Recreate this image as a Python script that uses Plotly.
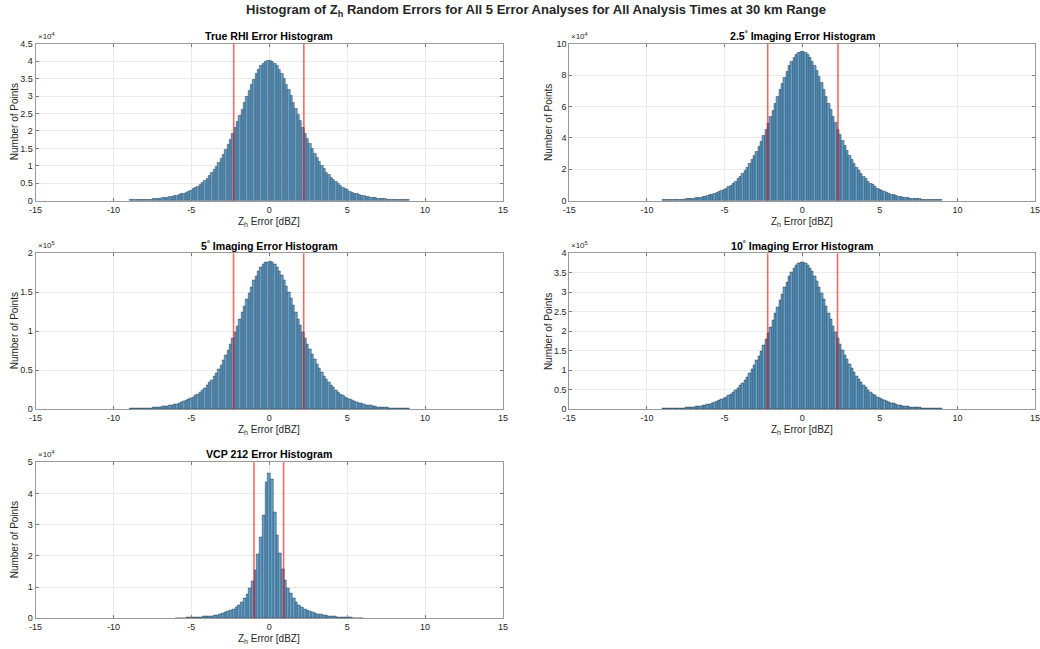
import numpy as np
import plotly.graph_objects as go

# ---------------- data (counts in units of the panel's 10^n factor) ----------------
# wide panels: bins of width 0.15 from -9 to 9 (120 bins)
WIDE_BIN_START = -9.0
WIDE_BIN_WIDTH = 0.15

rhi_counts = [
    0.016, 0.016, 0.020, 0.020, 0.024, 0.024, 0.028, 0.032, 0.036, 0.040,
    0.048, 0.052, 0.060, 0.064, 0.072, 0.084, 0.092, 0.105, 0.117, 0.133,
    0.149, 0.169, 0.189, 0.209, 0.237, 0.265, 0.297, 0.330, 0.370, 0.414,
    0.462, 0.519, 0.579, 0.643, 0.720, 0.800, 0.888, 0.985, 1.09, 1.21,
    1.33, 1.46, 1.60, 1.76, 1.91, 2.08, 2.26, 2.44, 2.62, 2.80,
    2.98, 3.16, 3.32, 3.48, 3.63, 3.75, 3.86, 3.94, 3.99, 4.01,
    4.02, 3.99, 3.94, 3.86, 3.76, 3.64, 3.49, 3.33, 3.17, 3.00,
    2.82, 2.64, 2.46, 2.28, 2.10, 1.93, 1.77, 1.62, 1.48, 1.35,
    1.23, 1.11, 1.00, 0.905, 0.815, 0.735, 0.657, 0.592, 0.531, 0.474,
    0.425, 0.380, 0.339, 0.305, 0.272, 0.243, 0.215, 0.194, 0.174, 0.153,
    0.137, 0.120, 0.108, 0.095, 0.086, 0.074, 0.066, 0.061, 0.053, 0.049,
    0.041, 0.037, 0.033, 0.029, 0.025, 0.024, 0.021, 0.020, 0.017, 0.016,
]

img25_counts = [
    0.038, 0.038, 0.048, 0.048, 0.057, 0.057, 0.067, 0.076, 0.086, 0.095,
    0.114, 0.124, 0.143, 0.152, 0.171, 0.200, 0.219, 0.247, 0.276, 0.314,
    0.352, 0.399, 0.447, 0.494, 0.561, 0.627, 0.703, 0.779, 0.874, 0.979,
    1.09, 1.23, 1.37, 1.52, 1.70, 1.89, 2.10, 2.33, 2.58, 2.85,
    3.14, 3.46, 3.79, 4.15, 4.52, 4.92, 5.33, 5.76, 6.18, 6.61,
    7.04, 7.46, 7.86, 8.23, 8.57, 8.86, 9.11, 9.30, 9.42, 9.48,
    9.50, 9.43, 9.31, 9.12, 8.88, 8.59, 8.25, 7.89, 7.49, 7.07,
    6.64, 6.21, 5.79, 5.36, 4.95, 4.55, 4.18, 3.82, 3.49, 3.17,
    2.88, 2.61, 2.36, 2.12, 1.91, 1.72, 1.54, 1.39, 1.24, 1.11,
    0.990, 0.884, 0.789, 0.711, 0.635, 0.568, 0.500, 0.452, 0.404, 0.356,
    0.318, 0.280, 0.250, 0.222, 0.202, 0.173, 0.154, 0.145, 0.126, 0.115,
    0.096, 0.087, 0.077, 0.068, 0.058, 0.057, 0.049, 0.048, 0.039, 0.038,
]

img5_counts = [
    0.008, 0.008, 0.010, 0.010, 0.011, 0.011, 0.013, 0.015, 0.017, 0.019,
    0.023, 0.025, 0.029, 0.030, 0.034, 0.040, 0.044, 0.049, 0.055, 0.063,
    0.070, 0.080, 0.089, 0.099, 0.112, 0.125, 0.141, 0.156, 0.175, 0.196,
    0.219, 0.245, 0.274, 0.304, 0.340, 0.378, 0.420, 0.466, 0.517, 0.570,
    0.629, 0.692, 0.758, 0.830, 0.904, 0.984, 1.07, 1.15, 1.24, 1.32,
    1.41, 1.49, 1.57, 1.65, 1.71, 1.77, 1.82, 1.86, 1.88, 1.89,
    1.90, 1.88, 1.86, 1.82, 1.77, 1.72, 1.65, 1.58, 1.50, 1.42,
    1.33, 1.25, 1.16, 1.08, 0.992, 0.912, 0.838, 0.765, 0.699, 0.635,
    0.576, 0.522, 0.471, 0.424, 0.382, 0.344, 0.307, 0.277, 0.248, 0.221,
    0.198, 0.177, 0.158, 0.142, 0.126, 0.113, 0.100, 0.090, 0.081, 0.071,
    0.064, 0.056, 0.050, 0.045, 0.040, 0.035, 0.031, 0.029, 0.026, 0.023,
    0.020, 0.018, 0.015, 0.013, 0.012, 0.011, 0.010, 0.010, 0.008, 0.008,
]

img10_counts = [
    0.015, 0.015, 0.019, 0.019, 0.023, 0.023, 0.026, 0.030, 0.034, 0.038,
    0.045, 0.049, 0.057, 0.060, 0.068, 0.079, 0.087, 0.098, 0.109, 0.124,
    0.139, 0.158, 0.177, 0.196, 0.222, 0.249, 0.279, 0.309, 0.347, 0.388,
    0.434, 0.486, 0.543, 0.603, 0.675, 0.750, 0.833, 0.924, 1.03, 1.13,
    1.25, 1.37, 1.50, 1.65, 1.79, 1.95, 2.11, 2.28, 2.45, 2.62,
    2.79, 2.96, 3.12, 3.26, 3.40, 3.52, 3.62, 3.69, 3.74, 3.76,
    3.77, 3.74, 3.69, 3.62, 3.53, 3.41, 3.27, 3.13, 2.97, 2.81,
    2.64, 2.47, 2.30, 2.13, 1.97, 1.81, 1.67, 1.52, 1.39, 1.27,
    1.15, 1.05, 0.940, 0.848, 0.764, 0.688, 0.615, 0.554, 0.496, 0.443,
    0.396, 0.354, 0.316, 0.285, 0.254, 0.227, 0.200, 0.181, 0.161, 0.142,
    0.127, 0.111, 0.100, 0.089, 0.080, 0.069, 0.061, 0.058, 0.050, 0.046,
    0.039, 0.035, 0.031, 0.027, 0.023, 0.023, 0.020, 0.019, 0.015, 0.015,
]

# VCP 212: bins of width 0.175 centred on 0, from -6.0375 to 6.0375 (69 bins)
VCP_BIN_START = -6.0375
VCP_BIN_WIDTH = 0.175
vcp_counts = [
    0.008, 0.010, 0.012, 0.015, 0.018, 0.021, 0.025, 0.030, 0.035, 0.042,
    0.050, 0.058, 0.068, 0.080, 0.095, 0.11, 0.13, 0.155, 0.18, 0.21,
    0.25, 0.29, 0.34, 0.41, 0.50, 0.63, 0.78, 0.95, 1.20, 1.55,
    2.05, 2.60, 3.30, 4.35,
    4.65,
    4.45, 3.40, 2.65, 2.08, 1.58, 1.22, 0.97, 0.80, 0.64, 0.51,
    0.42, 0.35, 0.30, 0.26, 0.22, 0.185, 0.16, 0.135, 0.115, 0.098,
    0.083, 0.07, 0.06, 0.052, 0.044, 0.037, 0.031, 0.026, 0.022, 0.018,
    0.015, 0.012, 0.010, 0.008,
]

panel_titles = [
    "True RHI Error Histogram",
    "2.5<sup>°</sup> Imaging Error Histogram",
    "5<sup>°</sup> Imaging Error Histogram",
    "10<sup>°</sup> Imaging Error Histogram",
    "VCP 212 Error Histogram",
]
panel_counts = [rhi_counts, img25_counts, img5_counts, img10_counts, vcp_counts]
panel_bin_start = [WIDE_BIN_START] * 4 + [VCP_BIN_START]
panel_bin_width = [WIDE_BIN_WIDTH] * 4 + [VCP_BIN_WIDTH]
panel_exponent = [4, 4, 5, 5, 4]
panel_yticks = [
    [0, 0.5, 1, 1.5, 2, 2.5, 3, 3.5, 4, 4.5],
    [0, 2, 4, 6, 8, 10],
    [0, 0.5, 1, 1.5, 2],
    [0, 0.5, 1, 1.5, 2, 2.5, 3, 3.5, 4],
    [0, 1, 2, 3, 4, 5],
]
panel_ymax = [4.5, 10, 2, 4, 5]
# red bounds (dBZ)
panel_bounds = [
    [-2.28, 2.22],
    [-2.22, 2.31],
    [-2.29, 2.21],
    [-2.22, 2.28],
    [-0.98, 0.92],
]
x_ticks = [-15, -10, -5, 0, 5, 10, 15]

main_title = ("<b>Histogram of Z<sub>h</sub> Random Errors for All 5 Error Analyses "
              "for All Analysis Times at 30 km Range</b>")
x_label = "Z<sub>h</sub> Error [dBZ]"
y_label = "Number of Points"

# ---------------- layout geometry (pixels) ----------------
W, H = 1040, 649
col_px = [(35.5, 503.0), (569.3, 1035.0)]
row_px = [(43.7, 200.7), (253.3, 409.3), (462.3, 618.3)]
panel_pos = [(0, 0), (1, 0), (0, 1), (1, 1), (0, 2)]

FONT = "Liberation Sans, Arial, Helvetica, sans-serif"
TXT = "#262626"

fig = go.Figure()
layout = dict(
    width=W, height=H, margin=dict(l=0, r=0, t=0, b=0),
    paper_bgcolor="white", plot_bgcolor="white",
    bargap=0, showlegend=False, font=dict(family=FONT, color=TXT, size=9),
)
annotations = []
shapes = []

for i in range(5):
    c, r = panel_pos[i]
    x0p, x1p = col_px[c]
    y0p, y1p = row_px[r]
    sfx = "" if i == 0 else str(i + 1)
    scale = 10 ** panel_exponent[i]
    counts = np.array(panel_counts[i]) * scale
    n = len(counts)
    bw = panel_bin_width[i]
    centers = panel_bin_start[i] + bw * (np.arange(n) + 0.5)

    fig.add_trace(go.Bar(
        x=centers, y=counts, width=bw,
        marker=dict(color="rgb(96,160,205)", line=dict(color="rgba(25,35,45,0.85)", width=0.5)),
        xaxis="x" + sfx, yaxis="y" + sfx, hoverinfo="skip",
    ))

    axis_common = dict(
        showline=True, mirror="ticks", linecolor="#9a9a9a", linewidth=1,
        ticks="inside", ticklen=3, tickcolor="#7a7a7a", tickwidth=0.7,
        showgrid=True, gridcolor="#ebebeb", gridwidth=1, zeroline=False,
        tickfont=dict(family=FONT, size=9, color=TXT), automargin=False,
        fixedrange=True, ticklabeloverflow="allow",
    )
    layout["xaxis" + sfx] = dict(
        axis_common, domain=[x0p / W, x1p / W], range=[-15, 15],
        tickvals=x_ticks, ticktext=[str(t) for t in x_ticks],
        anchor="y" + sfx,
    )
    yt = panel_yticks[i]
    layout["yaxis" + sfx] = dict(
        axis_common, domain=[1 - y1p / H, 1 - y0p / H],
        range=[0, panel_ymax[i] * scale],
        tickvals=[v * scale for v in yt], ticktext=[f"{v:g}" for v in yt],
        anchor="x" + sfx,
    )

    for xv in panel_bounds[i]:
        shapes.append(dict(
            type="line", x0=xv, x1=xv, y0=0, y1=1,
            xref="x" + sfx, yref="y" + sfx + " domain",
            line=dict(color="rgba(255,0,0,0.6)", width=1.6), layer="above",
        ))

    xc = (x0p + x1p) / 2 / W
    # panel title
    annotations.append(dict(
        text="<b>" + panel_titles[i] + "</b>", x=xc, y=1 - (y0p - 8) / H,
        xref="paper", yref="paper", xanchor="center", yanchor="middle",
        showarrow=False, font=dict(family=FONT, size=10.6, color="black"),
    ))
    # x label
    annotations.append(dict(
        text=x_label, x=xc, y=1 - (y1p + 21) / H,
        xref="paper", yref="paper", xanchor="center", yanchor="middle",
        showarrow=False, font=dict(family=FONT, size=10, color=TXT),
    ))
    # y label
    annotations.append(dict(
        text=y_label, x=(x0p - 21.5) / W, y=1 - (y0p + y1p) / 2 / H,
        xref="paper", yref="paper", xanchor="center", yanchor="middle",
        textangle=-90, showarrow=False, font=dict(family=FONT, size=10, color=TXT),
    ))
    # exponent
    annotations.append(dict(
        text="×10<sup>%d</sup>" % panel_exponent[i], x=x0p / W, y=1 - (y0p - 1) / H,
        xref="paper", yref="paper", xanchor="left", yanchor="bottom",
        showarrow=False, font=dict(family=FONT, size=8, color=TXT),
    ))

annotations.append(dict(
    text=main_title, x=536 / W, y=1 - 11 / H, xref="paper", yref="paper",
    xanchor="center", yanchor="middle", showarrow=False,
    font=dict(family=FONT, size=13, color=TXT),
))

layout["annotations"] = annotations
layout["shapes"] = shapes
fig.update_layout(**layout)
fig.write_html(
    "out.html",
    config={"displayModeBar": False},
    post_script="document.body.style.margin='0';document.body.style.overflow='hidden';",
)
